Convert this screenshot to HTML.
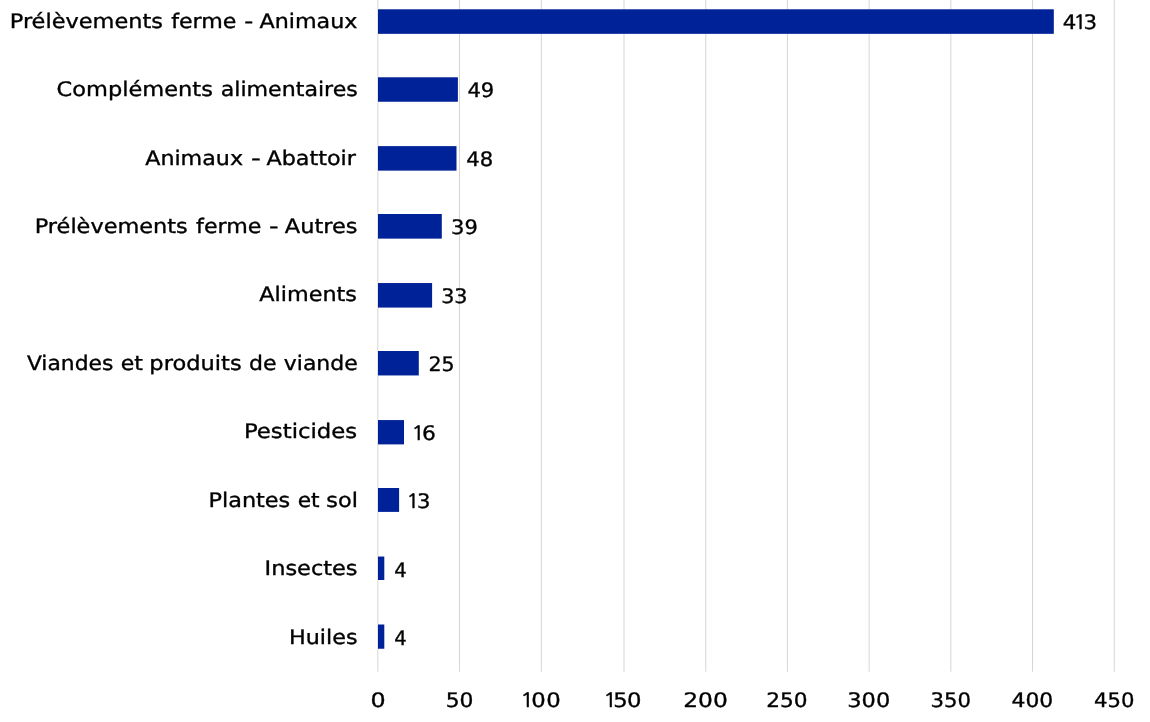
<!DOCTYPE html>
<html lang="fr">
<head>
<meta charset="utf-8">
<title>Prélèvements par catégorie</title>
<style>
html,body{margin:0;padding:0;background:#fff;}
body{width:1150px;height:722px;overflow:hidden;}
svg{display:block;}
text{font-family:"DejaVu Sans", "Liberation Sans", sans-serif;font-size:20.0px;fill:#000;stroke:#000;stroke-width:0.35px;text-rendering:geometricPrecision;}
tspan.one{font-family:"NanumGothic", "IPAGothic", "DejaVu Sans", sans-serif;font-size:19.8px;stroke-width:0.55px;}
.grid line{stroke:#d5d5d5;stroke-width:1;}
.bars rect{fill:#002298;}
</style>
</head>
<body>
<svg width="1150" height="722" viewBox="0 0 1150 722" role="img" aria-label="Nombre de prélèvements par catégorie">
<rect x="0" y="0" width="1150" height="722" fill="#ffffff"/>
<g class="grid">
<line x1="377.86" y1="0" x2="377.86" y2="671.7"/>
<line x1="459.50" y1="0" x2="459.50" y2="671.7"/>
<line x1="541.37" y1="0" x2="541.37" y2="671.7"/>
<line x1="624.00" y1="0" x2="624.00" y2="671.7"/>
<line x1="705.76" y1="0" x2="705.76" y2="671.7"/>
<line x1="787.40" y1="0" x2="787.40" y2="671.7"/>
<line x1="869.16" y1="0" x2="869.16" y2="671.7"/>
<line x1="950.83" y1="0" x2="950.83" y2="671.7"/>
<line x1="1032.50" y1="0" x2="1032.50" y2="671.7"/>
<line x1="1114.26" y1="0" x2="1114.26" y2="671.7"/>
</g>
<g class="bars">
<rect x="378.00" y="9.28" width="675.80" height="24.56"/>
<rect x="378.00" y="77.28" width="79.90" height="24.47"/>
<rect x="378.00" y="146.12" width="78.50" height="24.51"/>
<rect x="378.00" y="214.00" width="63.80" height="24.63"/>
<rect x="378.00" y="283.03" width="54.10" height="24.55"/>
<rect x="378.00" y="351.00" width="40.80" height="24.45"/>
<rect x="378.00" y="420.07" width="26.00" height="24.33"/>
<rect x="378.00" y="488.00" width="21.10" height="23.90"/>
<rect x="378.00" y="556.55" width="6.30" height="23.45"/>
<rect x="378.00" y="624.50" width="6.30" height="24.25"/>
</g>
<g class="cats">
<g class="label">
<text transform="translate(9.74 28.00) scale(1.1224 1)">Prélèvements</text>
<text transform="translate(171.17 28.00) scale(1.1060 1)">ferme</text>
<text transform="translate(244.36 28.00) scale(1.2522 1)">-</text>
<text transform="translate(259.50 28.00) scale(1.1111 1)">Animaux</text>
</g>
<g class="label">
<text transform="translate(56.56 96.00) scale(1.1251 1)">Compléments</text>
<text transform="translate(220.69 96.00) scale(1.1059 1)">alimentaires</text>
</g>
<g class="label">
<text transform="translate(145.20 165.00) scale(1.1100 1)">Animaux</text>
<text transform="translate(250.88 165.00) scale(1.3565 1)">-</text>
<text transform="translate(266.50 165.00) scale(1.1133 1)">Abattoir</text>
</g>
<g class="label">
<text transform="translate(34.74 233.00) scale(1.1209 1)">Prélèvements</text>
<text transform="translate(196.12 233.00) scale(1.1069 1)">ferme</text>
<text transform="translate(269.01 233.00) scale(1.3217 1)">-</text>
<text transform="translate(284.85 233.00) scale(1.1227 1)">Autres</text>
</g>
<g class="label">
<text transform="translate(259.30 301.00) scale(1.1159 1)">Aliments</text>
</g>
<g class="label">
<text transform="translate(26.90 370.00) scale(1.0924 1)">Viandes</text>
<text transform="translate(120.67 370.00) scale(1.1013 1)">et</text>
<text transform="translate(149.36 370.00) scale(1.1273 1)">produits</text>
<text transform="translate(248.97 370.00) scale(1.1021 1)">de</text>
<text transform="translate(283.80 370.00) scale(1.0977 1)">viande</text>
</g>
<g class="label">
<text transform="translate(243.91 438.00) scale(1.1392 1)">Pesticides</text>
</g>
<g class="label">
<text transform="translate(208.54 507.00) scale(1.1177 1)">Plantes</text>
<text transform="translate(297.69 507.00) scale(1.0857 1)">et</text>
<text transform="translate(326.36 507.00) scale(1.1192 1)">sol</text>
</g>
<g class="label">
<text transform="translate(264.54 575.00) scale(1.1227 1)">Insectes</text>
</g>
<g class="label">
<text transform="translate(289.05 644.00) scale(1.1119 1)">Huiles</text>
</g>
</g>
<g class="vals">
<text transform="translate(0 29.00) scale(1.0635 1)" x="999.38 1009.34 1018.78">4<tspan class="one">1</tspan>3</text>
<text transform="translate(467.41 97.00) scale(1.0553 1)">49</text>
<text transform="translate(466.21 166.00) scale(1.0553 1)">48</text>
<text transform="translate(451.08 234.00) scale(1.0522 1)">39</text>
<text transform="translate(441.21 303.00) scale(1.0330 1)">33</text>
<text transform="translate(428.41 371.00) scale(1.0286 1)">25</text>
<text transform="translate(0 440.00) scale(1.0857 1)" x="378.91 388.63"><tspan class="one">1</tspan>6</text>
<text transform="translate(0 508.00) scale(1.0550 1)" x="385.43 395.24"><tspan class="one">1</tspan>3</text>
<text transform="translate(394.17 577.00) scale(0.9778 1)">4</text>
<text transform="translate(394.17 645.00) scale(0.9778 1)">4</text>
</g>
<g class="ticks">
<text transform="translate(370.41 707.00) scale(1.1907 1)">0</text>
<text transform="translate(445.63 707.00) scale(1.0925 1)">50</text>
<text transform="translate(0 707.00) scale(1.1400 1)" x="456.29 465.99 479.11"><tspan class="one">1</tspan>00</text>
<text transform="translate(0 707.00) scale(1.1400 1)" x="529.22 537.87 550.03"><tspan class="one">1</tspan>50</text>
<text transform="translate(683.14 707.00) scale(1.1692 1)">200</text>
<text transform="translate(766.24 707.00) scale(1.0853 1)">250</text>
<text transform="translate(847.29 707.00) scale(1.1245 1)">300</text>
<text transform="translate(930.57 707.00) scale(1.0601 1)">350</text>
<text transform="translate(1011.48 707.00) scale(1.0924 1)">400</text>
<text transform="translate(1094.11 707.00) scale(1.0593 1)">450</text>
</g>
</svg>
</body>
</html>
